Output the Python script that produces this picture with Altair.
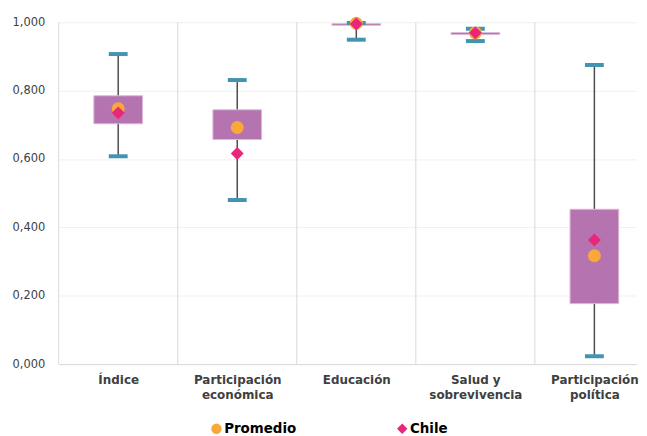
import altair as alt
import pandas as pd

categories = ["Índice", "Participación|económica", "Educación", "Salud y|sobrevivencia", "Participación|política"]
whisker_low = [0.608, 0.480, 0.949, 0.945, 0.023]
q1 = [0.703, 0.657, 0.991, 0.964, 0.177]
q3 = [0.785, 0.744, 0.996, 0.970, 0.453]
whisker_high = [0.907, 0.831, 0.998, 0.981, 0.875]
promedio = [0.747, 0.692, 0.997, 0.969, 0.317]
chile = [0.735, 0.616, 0.995, 0.969, 0.363]
separators = [0, 1, 2, 3, 4]
y_ticks = [0, 0.2, 0.4, 0.6, 0.8, 1.0]

pos = [i + 0.5 for i in range(len(categories))]
box_df = pd.DataFrame({"pos": pos, "lo": whisker_low, "q1": q1, "q3": q3, "hi": whisker_high})
pts_df = pd.DataFrame({
    "pos": pos + pos,
    "valor": promedio + chile,
    "serie": ["Promedio"] * len(pos) + ["Chile"] * len(pos),
    "orden": [0] * len(pos) + [1] * len(pos),
})
sep_df = pd.DataFrame({"s": separators})

W = 581
unit = 119.8
xscale = alt.Scale(domain=[0, W / unit], nice=False, zero=False, padding=0)
yscale = alt.Scale(domain=[0, 1], nice=False)

cat_js = "[" + ",".join("'" + c + "'" for c in categories) + "]"
x_axis = alt.Axis(
    values=pos, title=None, grid=False, ticks=False, domainColor="#d9d9d9",
    labelExpr="split(" + cat_js + "[floor(datum.value)], '|')",
    labelFontWeight="bold", labelFontSize=12, labelColor="#404040", labelPadding=11,
    labelLineHeight=15, labelFont="DejaVu Sans",
)
y_axis = alt.Axis(
    values=y_ticks, title=None, ticks=False, domain=False, gridColor="#f0f0f0",
    labelExpr="replace(format(datum.value, '.3f'), '.', ',')",
    labelFontSize=11.5, labelColor="#404040", labelPadding=14, labelFont="DejaVu Sans",
)

seps = alt.Chart(sep_df).mark_rule(color="#d9d9d9", strokeWidth=1).encode(
    x=alt.X("s:Q", scale=xscale, axis=x_axis),
    y=alt.value(0),
    y2=alt.value(344),
)

whisk = alt.Chart(box_df).mark_rule(color="#4d4d4d", strokeWidth=1.5).encode(
    x=alt.X("pos:Q", scale=xscale, axis=x_axis),
    y=alt.Y("lo:Q", scale=yscale, axis=y_axis),
    y2="hi:Q",
)

box = alt.Chart(box_df).mark_bar(size=49, color="#b574b0", stroke="#dcb8d9", strokeWidth=1).encode(
    x=alt.X("pos:Q", scale=xscale),
    y=alt.Y("q1:Q", scale=yscale),
    y2="q3:Q",
)

cap_lo = alt.Chart(box_df).mark_tick(orient="horizontal", size=19, thickness=4, color="#4394b0", opacity=1).encode(
    x=alt.X("pos:Q", scale=xscale),
    y=alt.Y("lo:Q", scale=yscale),
)
cap_hi = alt.Chart(box_df).mark_tick(orient="horizontal", size=19, thickness=4, color="#4394b0", opacity=1).encode(
    x=alt.X("pos:Q", scale=xscale),
    y=alt.Y("hi:Q", scale=yscale),
)

points = alt.Chart(pts_df).mark_point(filled=True, size=169, opacity=1).encode(
    x=alt.X("pos:Q", scale=xscale),
    y=alt.Y("valor:Q", scale=yscale),
    color=alt.Color("serie:N", scale=alt.Scale(domain=["Promedio", "Chile"], range=["#f9a93a", "#e8277a"]),
                    legend=alt.Legend(title=None)),
    shape=alt.Shape("serie:N", scale=alt.Scale(domain=["Promedio", "Chile"], range=["circle", "diamond"]),
                    legend=alt.Legend(title=None)),
    order=alt.Order("orden:Q"),
)

chart = alt.layer(seps, whisk, box, cap_lo, cap_hi, points).properties(
    width=W, height=344,
    padding={"left": 4, "top": 7, "right": 0, "bottom": 0},
).configure_view(stroke=None).configure_legend(
    orient="none", legendX=152, legendY=402, direction="horizontal",
    columnPadding=99, labelFontSize=13.5, labelFontWeight="bold", labelColor="#000000",
    labelFont="DejaVu Sans", symbolSize=110, symbolStrokeWidth=0, labelOffset=1,
)

chart.save("out.html", embed_options={"renderer": "svg", "actions": False})
